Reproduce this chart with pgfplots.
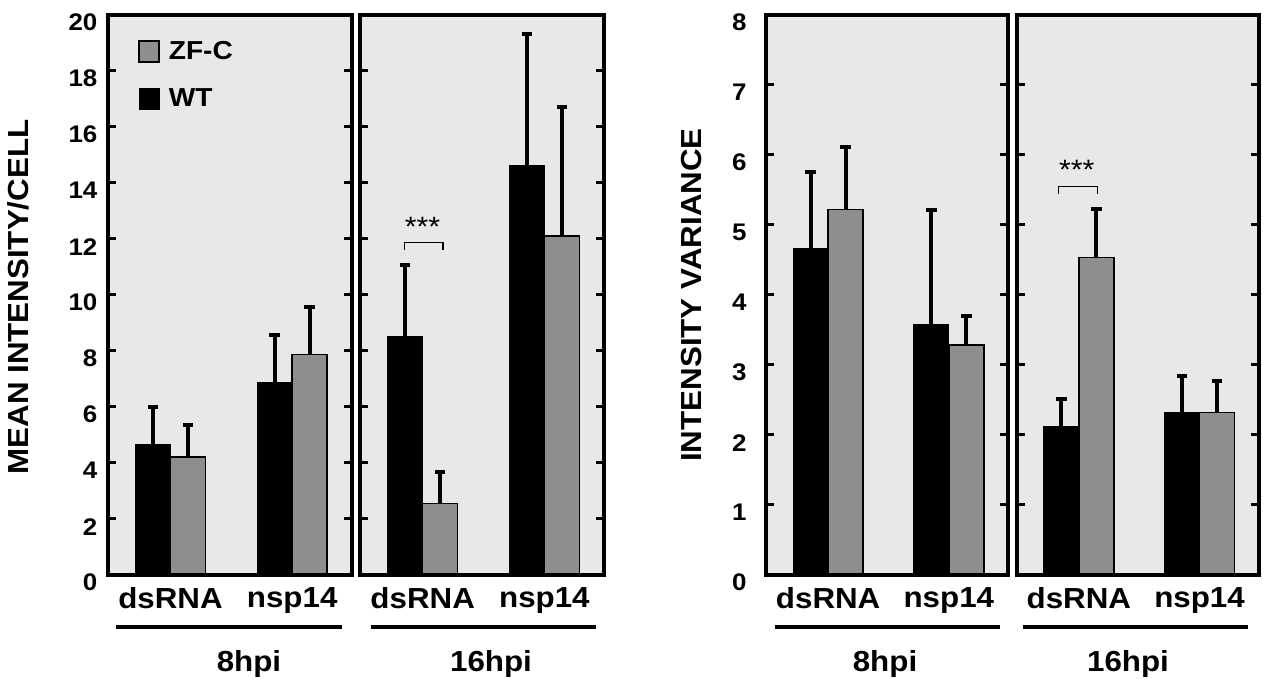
\documentclass[border=0pt]{standalone}
\usepackage{pgfplots}
\pgfplotsset{compat=1.18}
\usepackage{fontspec}
\setmainfont{Liberation Sans}[FakeStretch=1.08]
\definecolor{bggray}{HTML}{E8E8E8}
\definecolor{zfgray}{HTML}{8E8E8E}

\pgfplotsset{
  panel/.style={
    scale only axis,
    height=280pt,
    ymin=0,
    xmin=-0.515, xmax=1.49,
    axis on top,
    axis line style={line width=2pt},
    axis background/.style={fill=bggray},
    ybar=0pt, bar width=17.5pt,
    xtick={0,1}, xticklabels={dsRNA,nsp14},
    major x tick style={draw=none},
    xticklabel style={font=\bfseries\fontsize{14.5}{14.5}\selectfont, inner sep=0pt, anchor=north, yshift=-6pt},
    ytick pos=both, yticklabel pos=left,
    tick align=inside,
    major y tick style={line width=1.6pt, black},
    major tick length=4pt,
    /pgf/number format/assume math mode=true,
    yticklabel style={font=\bfseries\fontsize{12}{12}\selectfont, inner sep=0pt, anchor=east, xshift=-5pt, yshift=-4pt},
  },
  wt/.style={fill=black, draw=black, line width=0.6pt,
    legend image code/.code={\draw[fill=black, draw=black, line width=0.6pt] (0pt,-5pt) rectangle (10pt,5.5pt);},
    error bars/.cd, y dir=plus, y explicit,
    error bar style={line width=2pt, black},
    error mark=-,
    error mark options={rotate=90, line width=2pt, mark size=2.6pt, black}},
  zf/.style={fill=zfgray, draw=black, line width=0.7pt,
    legend image code/.code={\draw[fill=zfgray, draw=black, line width=0.7pt] (0pt,-5pt) rectangle (10pt,5.5pt);},
    error bars/.cd, y dir=plus, y explicit,
    error bar style={line width=2pt, black},
    error mark=-,
    error mark options={rotate=90, line width=2pt, mark size=2.6pt, black}},
}

\begin{document}
\begin{tikzpicture}
\useasboundingbox (0,0) rectangle (631.5pt,339.5pt);

% left panel, 8hpi
\begin{axis}[panel, at={(53.9pt,52.15pt)}, anchor=south west, width=122pt,
  ymax=20, ytick={0,2,...,20},
  reverse legend,
  legend style={at={(axis description cs:0.124,0.955)}, anchor=north west,
    draw=none, fill=none, inner sep=0pt, row sep=12.5pt, column sep=4.5pt,
    nodes={inner sep=0pt, font=\bfseries\fontsize{13}{13}\selectfont},
    cells={anchor=west}}]
\addplot[wt] coordinates {(0,4.66) +- (0,1.32) (1,6.86) +- (0,1.71)};
\addplot[zf] coordinates {(0,4.20) +- (0,1.15) (1,7.87) +- (0,1.68)};
\legend{WT,ZF-C}
\end{axis}

% left panel, 16hpi
\begin{axis}[panel, at={(180pt,52.15pt)}, anchor=south west, width=122pt,
  ymax=20, ytick={0,2,...,20}, yticklabels={}]
\addplot[wt] coordinates {(0,8.52) +- (0,2.54) (1,14.60) +- (0,4.70)};
\addplot[zf] coordinates {(0,2.54) +- (0,1.12) (1,12.10) +- (0,4.61)};
\end{axis}

% right panel, 8hpi
\begin{axis}[panel, at={(383pt,52.15pt)}, anchor=south west, width=121pt,
  ymax=8, ytick={0,1,...,8},
  yticklabel style={xshift=-4.5pt}]
\addplot[wt] coordinates {(0,4.66) +- (0,1.10) (1,3.57) +- (0,1.64)};
\addplot[zf] coordinates {(0,5.22) +- (0,0.89) (1,3.28) +- (0,0.41)};
\end{axis}

% right panel, 16hpi
\begin{axis}[panel, at={(508.35pt,52.15pt)}, anchor=south west, width=121pt,
  ymax=8, ytick={0,1,...,8}, yticklabels={}]
\addplot[wt] coordinates {(0,2.11) +- (0,0.40) (1,2.32) +- (0,0.52)};
\addplot[zf] coordinates {(0,4.53) +- (0,0.69) (1,2.32) +- (0,0.45)};
\end{axis}

% axis titles
\node[rotate=90, font=\bfseries\fontsize{14.5}{14.5}\selectfont] at (9pt,191pt) {MEAN INTENSITY/CELL};
\node[rotate=90, font=\bfseries\fontsize{14.5}{14.5}\selectfont] at (346pt,192pt) {INTENSITY VARIANCE};

% time point groups
\draw[line width=2pt] (58pt,26.15pt) -- (170.8pt,26.15pt);
\draw[line width=2pt] (185.3pt,26.15pt) -- (298pt,26.15pt);
\draw[line width=2pt] (387.5pt,26.15pt) -- (500pt,26.15pt);
\draw[line width=2pt] (511.7pt,26.15pt) -- (624.2pt,26.15pt);
\begin{scope}[every node/.style={anchor=north, inner sep=0pt, font=\bfseries\fontsize{14.5}{14.5}\selectfont}]
\node at (124.5pt,14.5pt) {8hpi};
\node at (245.5pt,14.5pt) {16hpi};
\node at (442.5pt,14.5pt) {8hpi};
\node at (564pt,14.5pt) {16hpi};
\end{scope}

% significance
\draw[line width=0.7pt] (202.25pt,214.5pt) -- (202.25pt,218.15pt) -- (221.45pt,218.15pt) -- (221.45pt,214.5pt);
\node[font=\fontsize{14}{14}\selectfont, inner sep=0pt] at (211.2pt,226pt) {***};
\draw[line width=0.7pt] (529.15pt,242.5pt) -- (529.15pt,246.15pt) -- (548.65pt,246.15pt) -- (548.65pt,242.5pt);
\node[font=\fontsize{14}{14}\selectfont, inner sep=0pt] at (538.35pt,254.5pt) {***};
\end{tikzpicture}
\end{document}
